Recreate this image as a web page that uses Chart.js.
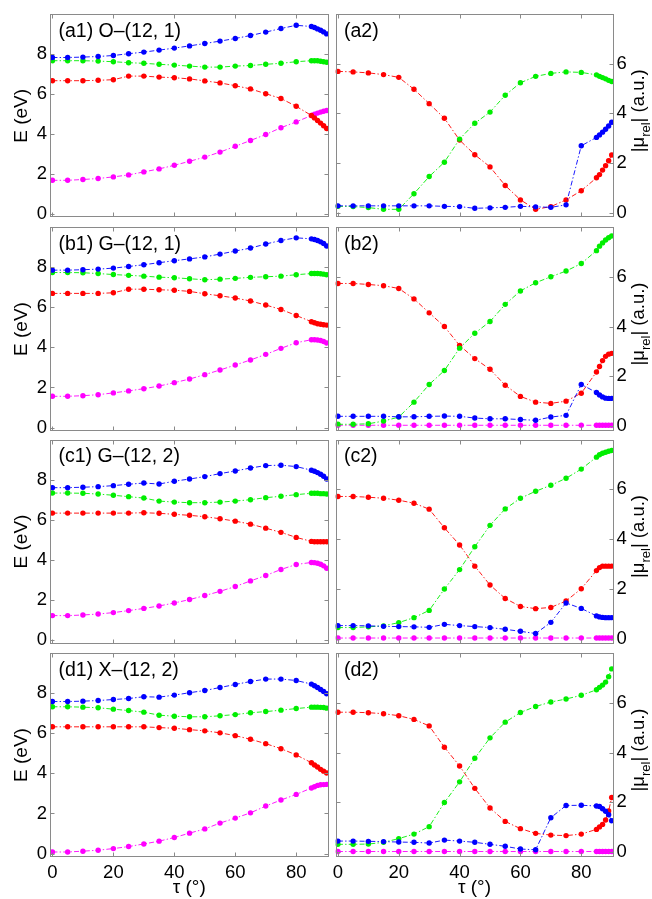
<!DOCTYPE html>
<html>
<head>
<meta charset="utf-8">
<script src="https://cdn.jsdelivr.net/npm/chart.js@4.4.1/dist/chart.umd.min.js"></script>
<style>
  html, body { margin: 0; padding: 0; background: #fff; }
  #fig { position: relative; width: 652px; height: 899px; }
  #fig canvas { position: absolute; left: 0; top: 0; }
</style>
</head>
<body>
<div id="fig"></div>
<script>
// twist angle (deg): 5 deg steps, then 1 deg steps near 90
const tau = [0, 5, 10, 15, 20, 25, 30, 35, 40, 45, 50, 55, 60, 65, 70, 75, 80, 85, 86, 87, 88, 89, 90];
const tauTicks = [0, 20, 40, 60, 80];
const eTicks = [0, 2, 4, 6, 8];
const muTicks = [0, 2, 4, 6];

// excitation energies E (eV)
const a1Blue = [7.83, 7.83, 7.85, 7.88, 7.93, 8.02, 8.10, 8.20, 8.30, 8.41, 8.53, 8.65, 8.78, 8.93, 9.10, 9.28, 9.44, 9.38, 9.33, 9.26, 9.19, 9.11, 9.01];
const a1Green = [7.67, 7.67, 7.67, 7.65, 7.62, 7.57, 7.54, 7.49, 7.45, 7.40, 7.35, 7.35, 7.40, 7.43, 7.49, 7.54, 7.62, 7.67, 7.67, 7.67, 7.64, 7.62, 7.59];
const a1Red = [6.67, 6.67, 6.67, 6.69, 6.72, 6.90, 6.90, 6.85, 6.82, 6.76, 6.66, 6.56, 6.42, 6.26, 6.02, 5.78, 5.39, 4.93, 4.81, 4.68, 4.55, 4.42, 4.28];
const a1Magenta = [1.69, 1.69, 1.73, 1.78, 1.86, 1.96, 2.11, 2.26, 2.44, 2.64, 2.85, 3.10, 3.39, 3.68, 3.98, 4.32, 4.61, 4.93, 4.99, 5.05, 5.10, 5.14, 5.18];

const b1Blue = [7.85, 7.85, 7.87, 7.90, 7.95, 8.03, 8.12, 8.22, 8.32, 8.41, 8.51, 8.65, 8.80, 8.95, 9.15, 9.33, 9.46, 9.41, 9.38, 9.33, 9.26, 9.18, 9.05];
const b1Green = [7.73, 7.73, 7.72, 7.68, 7.63, 7.59, 7.55, 7.50, 7.47, 7.42, 7.37, 7.40, 7.44, 7.49, 7.52, 7.55, 7.62, 7.68, 7.68, 7.68, 7.67, 7.65, 7.62];
const b1Red = [6.69, 6.69, 6.69, 6.69, 6.72, 6.90, 6.90, 6.87, 6.85, 6.79, 6.67, 6.57, 6.46, 6.31, 6.11, 5.89, 5.59, 5.28, 5.23, 5.18, 5.15, 5.13, 5.11];
const b1Magenta = [1.56, 1.56, 1.59, 1.64, 1.73, 1.83, 1.94, 2.07, 2.24, 2.42, 2.64, 2.87, 3.12, 3.37, 3.65, 3.95, 4.23, 4.38, 4.38, 4.37, 4.34, 4.29, 4.22];

const c1Blue = [7.60, 7.60, 7.62, 7.65, 7.70, 7.77, 7.83, 7.78, 7.92, 8.03, 8.15, 8.30, 8.43, 8.58, 8.70, 8.72, 8.65, 8.47, 8.42, 8.35, 8.27, 8.17, 8.03];
const c1Green = [7.33, 7.33, 7.32, 7.28, 7.22, 7.15, 7.08, 6.93, 6.88, 6.85, 6.85, 6.88, 6.93, 7.00, 7.10, 7.17, 7.25, 7.32, 7.32, 7.32, 7.30, 7.30, 7.28];
const c1Red = [6.33, 6.33, 6.33, 6.33, 6.33, 6.33, 6.35, 6.32, 6.27, 6.22, 6.15, 6.05, 5.93, 5.78, 5.58, 5.37, 5.12, 4.92, 4.90, 4.90, 4.90, 4.90, 4.90];
const c1Magenta = [1.22, 1.22, 1.25, 1.30, 1.37, 1.47, 1.58, 1.70, 1.85, 2.02, 2.22, 2.43, 2.67, 2.95, 3.22, 3.52, 3.77, 3.87, 3.86, 3.83, 3.78, 3.70, 3.58];

const d1Blue = [7.58, 7.58, 7.60, 7.63, 7.68, 7.73, 7.82, 7.80, 7.90, 8.02, 8.13, 8.28, 8.43, 8.58, 8.70, 8.70, 8.63, 8.45, 8.37, 8.28, 8.18, 8.08, 7.97];
const d1Green = [7.32, 7.32, 7.30, 7.27, 7.20, 7.13, 7.05, 6.90, 6.85, 6.82, 6.82, 6.87, 6.93, 7.02, 7.08, 7.15, 7.23, 7.30, 7.30, 7.30, 7.29, 7.28, 7.25];
const d1Red = [6.32, 6.32, 6.32, 6.32, 6.32, 6.32, 6.32, 6.28, 6.25, 6.18, 6.12, 6.02, 5.88, 5.70, 5.48, 5.23, 4.92, 4.53, 4.42, 4.32, 4.20, 4.11, 4.02];
const d1Magenta = [0.08, 0.08, 0.12, 0.17, 0.25, 0.35, 0.48, 0.62, 0.80, 1.02, 1.23, 1.52, 1.77, 2.03, 2.37, 2.67, 2.95, 3.27, 3.33, 3.40, 3.43, 3.44, 3.45];

// transition dipole |mu_rel| (a.u.)
const a2Blue = [0.27, 0.27, 0.27, 0.27, 0.27, 0.27, 0.27, 0.25, 0.24, 0.17, 0.19, 0.21, 0.25, 0.23, 0.21, 0.31, 2.69, 3.03, 3.13, 3.24, 3.36, 3.49, 3.64];
const a2Green = [0.25, 0.24, 0.20, 0.13, 0.13, 0.76, 1.45, 2.03, 2.96, 3.60, 4.05, 4.73, 5.23, 5.49, 5.61, 5.67, 5.65, 5.55, 5.49, 5.44, 5.39, 5.33, 5.28];
const a2Red = [5.69, 5.67, 5.63, 5.56, 5.45, 4.97, 4.39, 3.80, 2.92, 2.33, 1.84, 1.09, 0.51, 0.13, 0.24, 0.51, 0.88, 1.40, 1.53, 1.71, 1.89, 2.09, 2.32];

const b2Blue = [0.39, 0.39, 0.39, 0.39, 0.37, 0.37, 0.39, 0.40, 0.39, 0.32, 0.29, 0.29, 0.26, 0.23, 0.36, 0.43, 1.67, 1.35, 1.25, 1.17, 1.12, 1.11, 1.11];
const b2Green = [0.07, 0.07, 0.09, 0.20, 0.36, 0.96, 1.67, 2.23, 3.13, 3.73, 4.20, 4.89, 5.43, 5.76, 6.00, 6.23, 6.53, 7.05, 7.23, 7.36, 7.48, 7.57, 7.64];
const b2Red = [5.73, 5.73, 5.69, 5.64, 5.53, 5.11, 4.55, 4.00, 3.24, 2.71, 2.28, 1.64, 1.19, 0.96, 0.91, 1.00, 1.32, 2.17, 2.39, 2.63, 2.80, 2.89, 2.92];
const b2Magenta = [0.03, 0.03, 0.03, 0.03, 0.03, 0.03, 0.03, 0.03, 0.03, 0.03, 0.03, 0.03, 0.03, 0.03, 0.03, 0.03, 0.03, 0.03, 0.03, 0.03, 0.03, 0.03, 0.03];

const c2Blue = [0.52, 0.52, 0.51, 0.49, 0.48, 0.47, 0.45, 0.57, 0.52, 0.48, 0.44, 0.37, 0.29, 0.20, 0.65, 1.43, 1.21, 0.91, 0.87, 0.85, 0.84, 0.84, 0.84];
const c2Green = [0.44, 0.44, 0.47, 0.51, 0.64, 0.84, 1.13, 1.99, 2.77, 3.69, 4.55, 5.21, 5.64, 5.92, 6.16, 6.44, 6.81, 7.29, 7.39, 7.45, 7.49, 7.53, 7.56];
const c2Red = [5.71, 5.71, 5.68, 5.64, 5.56, 5.44, 5.20, 4.45, 3.76, 2.91, 2.15, 1.61, 1.29, 1.20, 1.25, 1.51, 2.00, 2.73, 2.85, 2.91, 2.91, 2.91, 2.91];
const c2Magenta = [0.02, 0.02, 0.02, 0.02, 0.02, 0.02, 0.02, 0.02, 0.02, 0.02, 0.02, 0.02, 0.02, 0.02, 0.02, 0.02, 0.02, 0.02, 0.02, 0.02, 0.02, 0.02, 0.02];

const d2Blue = [0.44, 0.44, 0.43, 0.42, 0.40, 0.39, 0.36, 0.48, 0.44, 0.39, 0.31, 0.23, 0.12, 0.09, 1.38, 1.87, 1.88, 1.85, 1.83, 1.74, 1.64, 1.50, 1.26];
const d2Green = [0.31, 0.31, 0.32, 0.39, 0.54, 0.72, 1.02, 1.99, 2.82, 3.77, 4.59, 5.22, 5.61, 5.85, 6.03, 6.15, 6.30, 6.52, 6.62, 6.71, 6.83, 7.05, 7.36];
const d2Red = [5.62, 5.62, 5.60, 5.56, 5.48, 5.33, 5.07, 4.21, 3.46, 2.56, 1.77, 1.23, 0.94, 0.75, 0.68, 0.66, 0.72, 0.91, 1.01, 1.11, 1.29, 1.65, 2.19];
const d2Magenta = [0.02, 0.02, 0.02, 0.02, 0.02, 0.02, 0.02, 0.02, 0.02, 0.02, 0.02, 0.02, 0.02, 0.02, 0.02, 0.02, 0.02, 0.02, 0.02, 0.02, 0.02, 0.02, 0.02];

const BLUE = '#0000ff', GREEN = '#00ee00', RED = '#ff0000', MAGENTA = '#ff00ff';

// page geometry
const W = 652, H = 899;
const rowTops = [13.5, 227, 439.5, 653];
const boxH = 204;
const colLeft = [50, 335.5];
const colRight = [328.5, 613.5];
const FONT = '"Liberation Sans", Arial, Helvetica, sans-serif';

Chart.defaults.font.family = FONT;
Chart.defaults.font.size = 18.5;
Chart.defaults.color = '#000';

// first element is drawn on top
const panels = [
  { row: 0, col: 0, tag: '(a1) O\u2013(12, 1)', series: [[a1Blue, BLUE], [a1Green, GREEN], [a1Red, RED], [a1Magenta, MAGENTA]] },
  { row: 0, col: 1, tag: '(a2)', series: [[a2Blue, BLUE], [a2Green, GREEN], [a2Red, RED]] },
  { row: 1, col: 0, tag: '(b1) G\u2013(12, 1)', series: [[b1Blue, BLUE], [b1Green, GREEN], [b1Red, RED], [b1Magenta, MAGENTA]] },
  { row: 1, col: 1, tag: '(b2)', series: [[b2Blue, BLUE], [b2Green, GREEN], [b2Red, RED], [b2Magenta, MAGENTA]] },
  { row: 2, col: 0, tag: '(c1) G\u2013(12, 2)', series: [[c1Blue, BLUE], [c1Green, GREEN], [c1Red, RED], [c1Magenta, MAGENTA]] },
  { row: 2, col: 1, tag: '(c2)', series: [[c2Blue, BLUE], [c2Green, GREEN], [c2Red, RED], [c2Magenta, MAGENTA]] },
  { row: 3, col: 0, tag: '(d1) X\u2013(12, 2)', series: [[d1Blue, BLUE], [d1Green, GREEN], [d1Red, RED], [d1Magenta, MAGENTA]] },
  { row: 3, col: 1, tag: '(d2)', series: [[d2Blue, BLUE], [d2Green, GREEN], [d2Red, RED], [d2Magenta, MAGENTA]] }
];

// box, inward ticks on all four sides, panel tag and the right-hand axis label
const framePlugin = {
  id: 'frame',
  afterDatasetsDraw(chart, args, opts) {
    const { ctx, chartArea: a, scales: { x, y } } = chart;
    const l = Math.round(a.left) + 0.5, r = Math.round(a.right) - 0.5;
    const t = Math.round(a.top) + 0.5, b = Math.round(a.bottom) - 0.5;
    const tl = 4;
    ctx.save();
    ctx.strokeStyle = '#8a8a8a';
    ctx.lineWidth = 1;
    ctx.beginPath();
    x.ticks.forEach(tk => {
      const px = Math.round(x.getPixelForValue(tk.value)) + 0.5;
      ctx.moveTo(px, b); ctx.lineTo(px, b - tl);
      ctx.moveTo(px, t); ctx.lineTo(px, t + tl);
    });
    y.ticks.forEach(tk => {
      const py = Math.round(y.getPixelForValue(tk.value)) + 0.5;
      ctx.moveTo(l, py); ctx.lineTo(l + tl, py);
      ctx.moveTo(r, py); ctx.lineTo(r - tl, py);
    });
    ctx.stroke();
    ctx.strokeRect(l, t, r - l, b - t);

    ctx.fillStyle = '#000';
    ctx.font = '19.5px ' + FONT;
    ctx.textBaseline = 'alphabetic';
    ctx.textAlign = 'left';
    ctx.fillText(opts.tag, a.left + 8.5, a.top + 22.5);

    if (opts.muLabel) {
      const big = '18.5px ' + FONT, small = '13px ' + FONT;
      ctx.font = big; const w1 = ctx.measureText('|\u03bc').width;
      const w3 = ctx.measureText('| (a.u.)').width;
      ctx.font = small; const w2 = ctx.measureText('rel').width;
      ctx.translate(644, (a.top + a.bottom) / 2 - 5);
      ctx.rotate(-Math.PI / 2);
      let px = -(w1 + w2 + w3) / 2;
      ctx.font = big; ctx.fillText('|\u03bc', px, 0); px += w1;
      ctx.font = small; ctx.fillText('rel', px, 6); px += w2;
      ctx.font = big; ctx.fillText('| (a.u.)', px, 0);
    }
    ctx.restore();
  }
};

const fig = document.getElementById('fig');

panels.forEach(p => {
  const canvas = document.createElement('canvas');
  canvas.width = W;
  canvas.height = H;
  fig.appendChild(canvas);

  const isLeft = p.col === 0;
  const isBottom = p.row === 3;
  const top = rowTops[p.row];
  const bottom = top + boxH;
  const left = colLeft[p.col];
  const right = colRight[p.col];
  const yw = isLeft ? 40 : 30;
  const xh = isBottom ? 42 : 0;
  const padding = {
    left: isLeft ? left - yw : left,
    right: isLeft ? W - right : W - right - yw,
    top: top,
    bottom: H - bottom - xh
  };

  const datasets = p.series.map(([vals, color]) => ({
    data: tau.map((t, i) => ({ x: t, y: vals[i] })),
    borderColor: color,
    backgroundColor: color,
    pointBackgroundColor: color,
    pointBorderWidth: 0,
    pointRadius: 2.7,
    borderWidth: 0.9,
    borderDash: [5, 2.2, 1.4, 2.2],
    fill: false,
    tension: 0
  }));

  new Chart(canvas, {
    type: 'line',
    data: { datasets },
    plugins: [framePlugin],
    options: {
      responsive: false,
      animation: false,
      devicePixelRatio: 1,
      events: [],
      layout: { padding },
      plugins: {
        legend: { display: false },
        tooltip: { enabled: false },
        frame: { tag: p.tag, muLabel: !isLeft }
      },
      scales: {
        x: {
          type: 'linear',
          position: 'bottom',
          min: -0.8,
          max: 90.6,
          afterBuildTicks: s => { s.ticks = tauTicks.map(v => ({ value: v })); },
          afterFit: s => { s.height = xh; },
          grid: { display: false, drawTicks: false },
          border: { display: false },
          ticks: { display: isBottom, padding: 5, maxRotation: 0, autoSkip: false },
          title: { display: isBottom, text: '\u03c4 (\u00b0)', padding: 0, font: { size: 19 } }
        },
        y: {
          type: 'linear',
          position: isLeft ? 'left' : 'right',
          min: isLeft ? -0.17 : -0.2,
          max: isLeft ? 10 : 8,
          afterBuildTicks: s => { s.ticks = (isLeft ? eTicks : muTicks).map(v => ({ value: v })); },
          afterFit: s => { s.width = yw; },
          grid: { display: false, drawTicks: false },
          border: { display: false },
          ticks: { padding: 3, autoSkip: false },
          title: { display: isLeft, text: 'E (eV)', padding: 0, font: { size: 19 } }
        }
      }
    }
  });
});
</script>
</body>
</html>
